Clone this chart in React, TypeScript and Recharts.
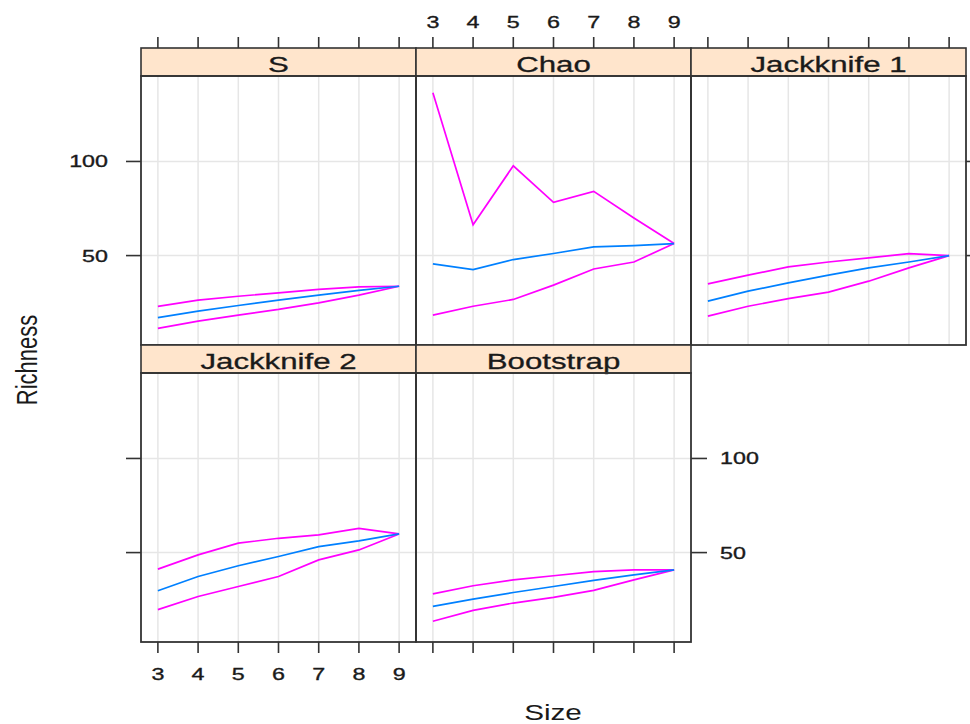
import { CartesianGrid, Line, LineChart, XAxis, YAxis } from "recharts";

// sample sizes (x) and richness ticks (y)
const SIZES = [3, 4, 5, 6, 7, 8, 9];
const RICHNESS_TICKS = [50, 100];
const X_DOMAIN: [number, number] = [2.58, 9.42];
const Y_DOMAIN: [number, number] = [2.5, 145.4];

// estimator values: mean with lower / upper bounds
const S_UPPER = [23.0, 26.3, 28.4, 30.2, 32.0, 33.4, 33.7];
const S_MEAN = [17.0, 20.5, 23.5, 26.3, 29.0, 31.5, 33.7];
const S_LOWER = [11.3, 15.2, 18.4, 21.4, 24.9, 29.0, 33.7];

const CHAO_UPPER = [136.5, 66.4, 97.7, 78.3, 84.1, 70.0, 56.4];
const CHAO_MEAN = [45.6, 42.6, 47.9, 51.1, 54.6, 55.3, 56.4];
const CHAO_LOWER = [18.4, 23.1, 26.7, 34.3, 42.9, 46.6, 56.4];

const JACK1_UPPER = [35.0, 39.6, 44.0, 46.6, 48.8, 51.0, 50.0];
const JACK1_MEAN = [25.8, 31.1, 35.5, 39.6, 43.5, 46.6, 50.0];
const JACK1_LOWER = [17.8, 23.1, 27.1, 30.6, 36.4, 43.5, 50.0];

const JACK2_UPPER = [41.2, 48.8, 55.0, 57.6, 59.4, 62.9, 59.9];
const JACK2_MEAN = [29.7, 37.3, 43.0, 47.9, 53.2, 56.2, 59.9];
const JACK2_LOWER = [19.7, 26.7, 32.0, 37.3, 46.1, 51.4, 59.9];

const BOOT_UPPER = [28.1, 32.4, 35.5, 37.7, 39.9, 40.8, 40.8];
const BOOT_MEAN = [21.4, 25.3, 28.8, 32.0, 35.2, 38.2, 40.8];
const BOOT_LOWER = [13.5, 19.3, 23.2, 26.2, 29.9, 35.5, 40.8];

type Side = "top" | "bottom" | "left" | "right" | "none";

const PANELS: Array<{
  name: string;
  upper: number[];
  mean: number[];
  lower: number[];
  col: number;
  row: number;
  xSide: Side;
  xLabels: boolean;
  ySide: Side;
  yLabels: boolean;
}> = [
  { name: "S", upper: S_UPPER, mean: S_MEAN, lower: S_LOWER, col: 0, row: 0, xSide: "top", xLabels: false, ySide: "left", yLabels: true },
  { name: "Chao", upper: CHAO_UPPER, mean: CHAO_MEAN, lower: CHAO_LOWER, col: 1, row: 0, xSide: "top", xLabels: true, ySide: "none", yLabels: false },
  { name: "Jackknife 1", upper: JACK1_UPPER, mean: JACK1_MEAN, lower: JACK1_LOWER, col: 2, row: 0, xSide: "top", xLabels: false, ySide: "right", yLabels: false },
  { name: "Jackknife 2", upper: JACK2_UPPER, mean: JACK2_MEAN, lower: JACK2_LOWER, col: 0, row: 1, xSide: "bottom", xLabels: true, ySide: "left", yLabels: false },
  { name: "Bootstrap", upper: BOOT_UPPER, mean: BOOT_MEAN, lower: BOOT_LOWER, col: 1, row: 1, xSide: "bottom", xLabels: false, ySide: "right", yLabels: true },
];

const FONT = "'Liberation Sans', Arial, sans-serif";
const INK = "#1a1a1a";
const FRAME = "#333333";
const STRETCH = 1.37; // the reference text is drawn wide

const PAD = 80;
const PW = 275;
const PH = 269;
const STRIP = 28;
const COL_X = [141, 416, 691];
const ROW_Y = [76, 373];

function makeTick(side: Side, show: boolean) {
  return (props: any) => {
    if (!show) return <g />;
    const { x, y, payload } = props;
    const anchor = side === "left" ? "end" : side === "right" ? "start" : "middle";
    const dy = side === "bottom" ? 14 : side === "top" ? 0 : 6;
    return (
      <text
        transform={`translate(${x},${y + dy}) scale(${STRETCH},1)`}
        textAnchor={anchor}
        fontSize={17}
        fontFamily={FONT}
        fill={INK}
        stroke={INK}
        strokeWidth={0.35}
      >
        {payload.value}
      </text>
    );
  };
}

function Panel({ p }: { p: (typeof PANELS)[number] }) {
  const left = COL_X[p.col];
  const top = ROW_Y[p.row];
  const data = SIZES.map((size, i) => ({
    size,
    upper: p.upper[i],
    mean: p.mean[i],
    lower: p.lower[i],
  }));
  const margin = {
    top: p.xSide === "top" ? 0 : PAD,
    bottom: p.xSide === "bottom" ? 0 : PAD,
    left: p.ySide === "left" ? 0 : PAD,
    right: p.ySide === "right" ? 0 : PAD,
  };
  const tickLine = { stroke: FRAME, strokeWidth: 1.6 };

  return (
    <div style={{ position: "absolute", left: left - PAD, top: top - PAD }}>
      <LineChart width={PW + 2 * PAD} height={PH + 2 * PAD} data={data} margin={margin}>
        <CartesianGrid
          stroke="#e6e6e6"
          strokeWidth={1.5}
          horizontalValues={RICHNESS_TICKS}
          verticalValues={SIZES}
        />
        <XAxis
          type="number"
          dataKey="size"
          domain={X_DOMAIN}
          ticks={SIZES}
          interval={0}
          allowDataOverflow
          orientation={p.xSide === "top" ? "top" : "bottom"}
          height={PAD}
          axisLine={false}
          tickLine={tickLine}
          tickSize={p.xSide === "top" ? 39 : 11}
          tickMargin={p.xSide === "top" ? 9 : 13}
          tick={makeTick(p.xSide, p.xLabels)}
        />
        <YAxis
          type="number"
          domain={Y_DOMAIN}
          ticks={RICHNESS_TICKS}
          interval={0}
          allowDataOverflow
          hide={p.ySide === "none"}
          orientation={p.ySide === "right" ? "right" : "left"}
          width={PAD}
          axisLine={false}
          tickLine={tickLine}
          tickSize={p.ySide === "left" ? 15 : 16}
          tickMargin={p.ySide === "left" ? 18 : 13}
          tick={makeTick(p.ySide, p.yLabels)}
        />
        <Line dataKey="upper" stroke="#ff00ff" strokeWidth={1.7} dot={false} isAnimationActive={false} />
        <Line dataKey="lower" stroke="#ff00ff" strokeWidth={1.7} dot={false} isAnimationActive={false} />
        <Line dataKey="mean" stroke="#0080ff" strokeWidth={1.7} dot={false} isAnimationActive={false} />
      </LineChart>
    </div>
  );
}

export default function App() {
  return (
    <div style={{ position: "absolute", left: 0, top: 0, width: 970, height: 724, background: "#fff" }}>
      {PANELS.map((p) => (
        <Panel key={p.name} p={p} />
      ))}
      <svg
        width={970}
        height={724}
        style={{ position: "absolute", left: 0, top: 0, pointerEvents: "none" }}
      >
        {PANELS.map((p) => {
          const left = COL_X[p.col];
          const top = ROW_Y[p.row];
          return (
            <g key={p.name}>
              <rect x={left} y={top - STRIP} width={PW} height={STRIP} fill="#ffe5cc" stroke={FRAME} strokeWidth={1.6} />
              <text
                transform={`translate(${left + PW / 2},${top - STRIP + 24}) scale(1.42,1)`}
                textAnchor="middle"
                fontSize={22}
                fontFamily={FONT}
                fill={INK}
                stroke={INK}
                strokeWidth={0.3}
              >
                {p.name}
              </text>
              <rect x={left} y={top} width={PW} height={PH} fill="none" stroke={FRAME} strokeWidth={1.8} />
            </g>
          );
        })}
        <text
          transform={`translate(37,360) scale(1.35,1) rotate(-90)`}
          textAnchor="middle"
          fontSize={22}
          fontFamily={FONT}
          fill={INK}
        >
          Richness
        </text>
        <text
          transform={`translate(553,720) scale(1.35,1)`}
          textAnchor="middle"
          fontSize={22}
          fontFamily={FONT}
          fill={INK}
        >
          Size
        </text>
      </svg>
    </div>
  );
}
